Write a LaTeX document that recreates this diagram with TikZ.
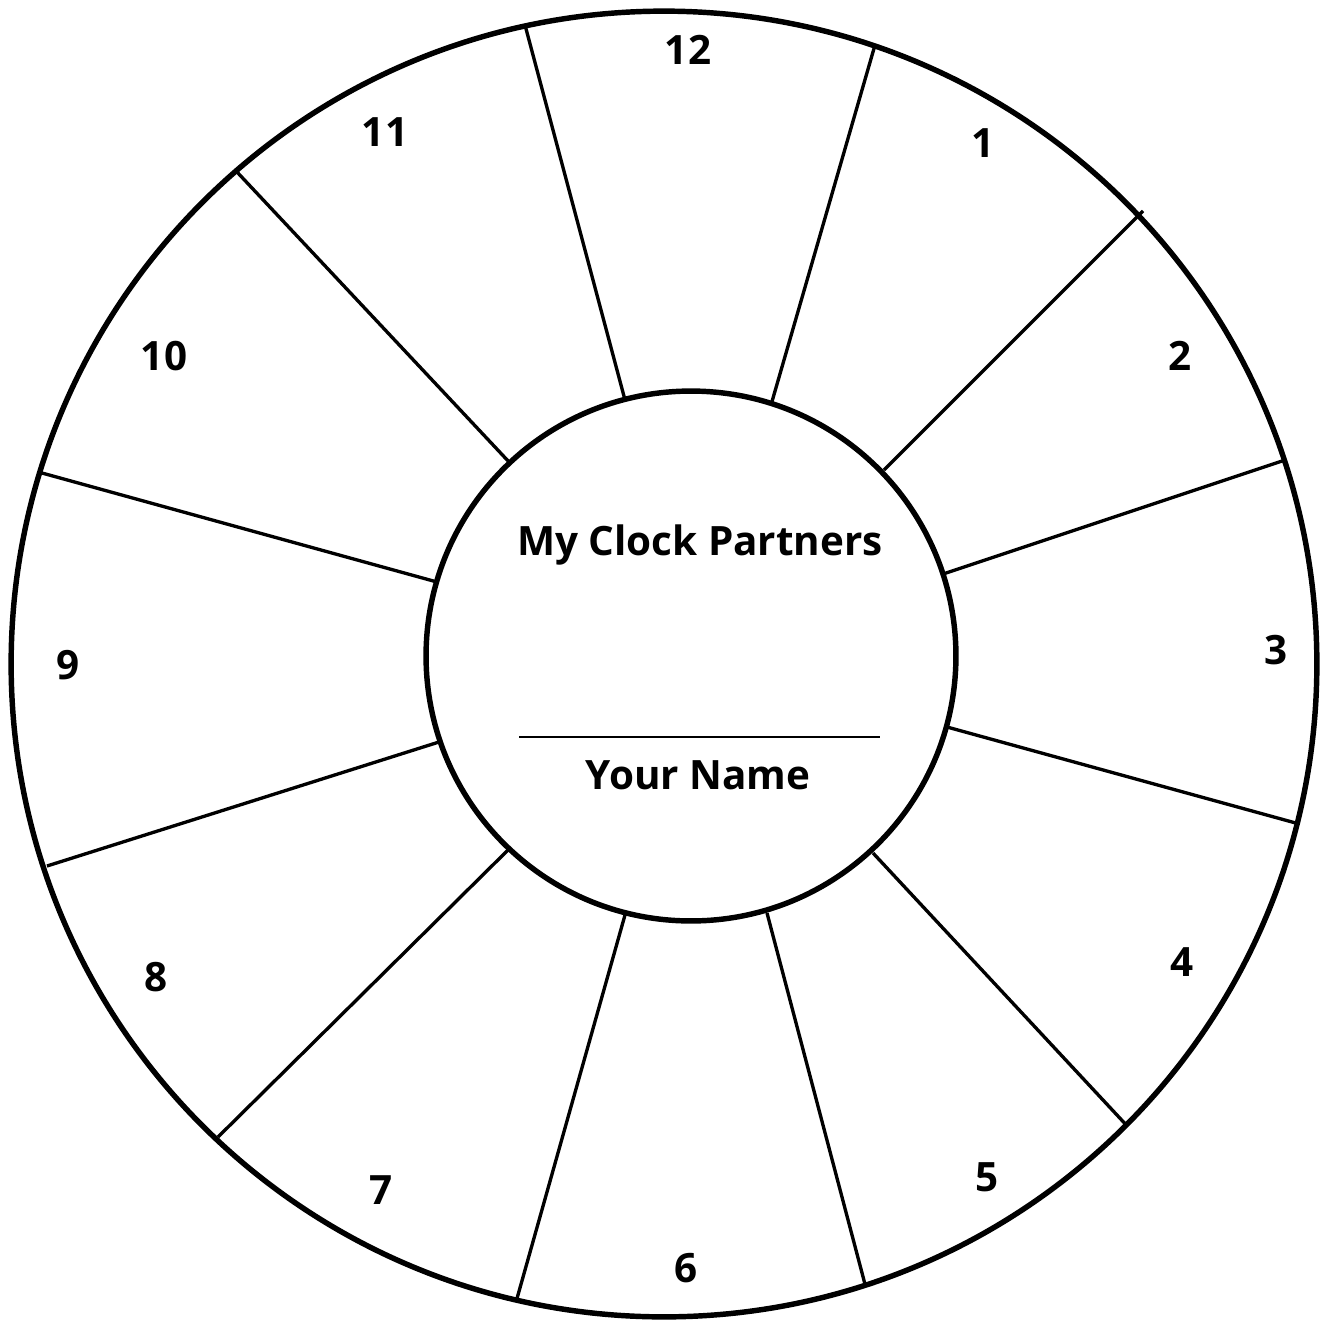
\documentclass[tikz,border=0pt]{standalone}
\usepackage{fontspec}
\setmainfont{Open Sans}

\begin{document}
\begin{tikzpicture}[
    x=0.02cm, y=-0.02cm,
    ring/.style={line width=3.1pt},
    spoke/.style={line width=1.9pt},
    hour/.style={font=\fontsize{23}{27}\selectfont\bfseries},
    title/.style={font=\fontsize{23}{27}\selectfont\bfseries}
]
\useasboundingbox (0,0) rectangle (1323,1323);

% Spoke end points (inner disc -> outer ring)
\foreach \ix/\iy/\ox/\oy [count=\k] in {
    625/400/525/25, 771/405/875/45, 884/470/1143/211,
    943/574/1288/459, 947/727/1303/825, 873/853/1130/1129,
    767/913/866/1288, 625/915/516/1302, 508/850/218/1137,
    439/742/47/866, 437/582/42/473, 510/463/237/172}
{
    \coordinate (in\k) at (\ix,\iy);
    \coordinate (out\k) at (\ox,\oy);
}

% Spokes, cut off at the outer ring
\begin{scope}
    \clip (664,664) circle (13.06cm);
    \foreach \k in {1,2,4,5,6,7,8,9,10,11,12}
        \draw[spoke] (in\k) -- (out\k);
\end{scope}
\draw[spoke] (in3) -- (out3);

% Outer ring and centre disc
\draw[ring] (664,664) circle (13.06cm);
\draw[ring] (691,656) circle (5.3cm);

% Hour numbers
\foreach \n/\x/\y in {
    12/688/50, 1/983/143, 2/1180/356, 3/1276/650,
    4/1182/962, 5/987/1177, 6/686/1268, 7/381/1190,
    8/156/977, 9/68/665, 10/164/356, 11/385/132}
    \node[hour] (h\n) at (\x,\y) {\n};

% Centre text
\node[title] (head) at (700,545) {My Clock Partners};
\coordinate (ul1) at (519,737);
\coordinate (ul2) at (880,737);
\draw[line width=1pt] (ul1) -- (ul2);
\node[title] (name) at (698,775) {Your Name};

\end{tikzpicture}
\end{document}
